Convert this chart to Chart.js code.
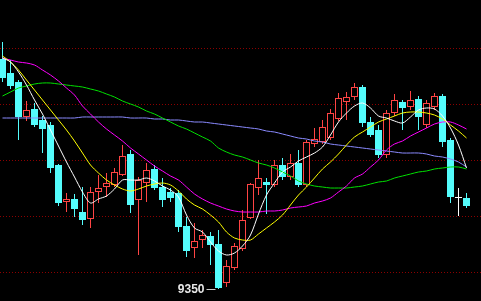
<!DOCTYPE html>
<html><head><meta charset="utf-8">
<script src="https://cdn.jsdelivr.net/npm/chart.js@4.4.1/dist/chart.umd.min.js"></script>
<style>html,body{margin:0;padding:0;background:#000;overflow:hidden}#wrap{width:481px;height:301px;position:relative}</style>
</head><body><div id="wrap"><canvas id="c"></canvas></div>
<script>
const OPEN=[9580,9566,9557,9522,9530,9519,9514,9474,9437,9440,9427,9420,9447,9452,9454,9464,9485,9439,9456,9470,9452,9447,9446,9413,9391,9399,9403,9395,9356,9371,9390,9421,9451,9457,9454,9474,9462,9476,9454,9495,9497,9501,9520,9537,9542,9552,9517,9509,9484,9526,9537,9532,9540,9514,9532,9543,9499,9441,9441];
const HIGH=[9597,9579,9559,9538,9536,9523,9517,9475,9446,9445,9452,9452,9464,9466,9471,9494,9489,9462,9476,9474,9461,9451,9449,9422,9416,9409,9407,9409,9379,9396,9429,9456,9479,9461,9479,9481,9485,9489,9499,9511,9519,9530,9546,9547,9556,9554,9522,9514,9529,9545,9539,9548,9543,9539,9546,9545,9501,9451,9446];
const LOW=[9557,9550,9499,9518,9512,9486,9466,9433,9427,9422,9414,9411,9436,9442,9452,9463,9426,9384,9437,9449,9432,9437,9407,9382,9381,9391,9374,9350,9352,9369,9388,9420,9444,9425,9452,9459,9459,9452,9452,9492,9495,9499,9518,9519,9539,9512,9502,9481,9481,9523,9509,9529,9509,9511,9529,9492,9436,9423,9431];
const CLOSE=[9561,9553,9522,9529,9514,9510,9471,9436,9440,9430,9419,9447,9451,9456,9467,9483,9434,9459,9469,9451,9439,9441,9412,9388,9398,9404,9394,9351,9373,9393,9419,9455,9461,9454,9474,9462,9476,9454,9497,9500,9512,9526,9541,9542,9552,9516,9504,9484,9526,9539,9531,9539,9522,9536,9543,9497,9442,9441,9433];
const MA5=[9581,9577,9567,9554,9539,9525,9509,9493,9477,9462,9447,9436,9440,9443,9450,9459,9459,9459,9461,9458,9453,9449,9442,9424,9411,9407,9397,9388,9384,9386,9393,9404,9425,9444,9456,9467,9472,9478,9482,9486,9492,9504,9517,9526,9533,9536,9531,9523,9521,9518,9516,9522,9529,9531,9530,9523,9511,9494,9471];
const MA10=[9583,9577,9569,9559,9549,9539,9529,9519,9509,9498,9486,9474,9466,9459,9454,9450,9448,9450,9453,9455,9456,9454,9448,9440,9434,9430,9424,9417,9407,9401,9399,9399,9405,9411,9417,9424,9434,9444,9452,9461,9470,9477,9485,9494,9502,9507,9512,9517,9520,9523,9526,9527,9527,9526,9524,9520,9514,9508,9501];
const MA20=[9581,9579,9577,9576,9574,9569,9564,9558,9551,9544,9533,9525,9517,9510,9504,9498,9491,9485,9479,9473,9468,9463,9459,9452,9445,9440,9436,9433,9430,9428,9427,9427,9427,9428,9428,9429,9431,9432,9433,9436,9438,9441,9447,9453,9461,9465,9472,9479,9489,9495,9498,9503,9507,9511,9515,9517,9517,9514,9510];
const MA40=[9543,9547,9551,9553,9555,9556,9556,9555,9554,9553,9552,9550,9548,9545,9542,9538,9535,9532,9528,9525,9521,9517,9513,9510,9506,9502,9498,9491,9487,9484,9482,9479,9476,9474,9471,9467,9463,9458,9455,9453,9452,9451,9451,9451,9452,9453,9455,9457,9458,9461,9463,9465,9467,9468,9470,9471,9472,9472,9470];
const MA60=[9521,9521,9521,9521,9521,9521,9521,9521,9521,9521,9522,9522,9522,9522,9522,9522,9521,9521,9521,9520,9520,9519,9519,9518,9517,9517,9516,9515,9514,9513,9512,9511,9510,9508,9507,9505,9503,9501,9500,9498,9497,9495,9494,9493,9492,9491,9490,9489,9488,9487,9486,9486,9486,9485,9483,9482,9480,9477,9472];
const GRID_LEVELS=[9591,9535,9479,9423,9367];

const UP_COLOR='#ff4444', DOWN_COLOR='#54fcfc', FLAT_COLOR='#ffffff';
const idx=OPEN.map((_,i)=>i);
const colorOf=i=>CLOSE[i]>OPEN[i]?UP_COLOR:(CLOSE[i]<OPEN[i]?DOWN_COLOR:FLAT_COLOR);
const wickData=idx.map(i=>({x:i,y:[LOW[i],HIGH[i]]}));
const bodyData=idx.map(i=>({x:i,y:[OPEN[i],CLOSE[i]]}));
const line=(arr,color)=>({type:'line',data:arr.map((v,i)=>({x:i,y:v})),borderColor:color,borderWidth:1,pointRadius:0,tension:0.3,fill:false,order:0});

const gridPlugin={id:'gridDots',beforeDatasetsDraw(chart){
  const {ctx,chartArea,scales:{y}}=chart;
  ctx.save();ctx.strokeStyle='#8c0000';ctx.lineWidth=1;ctx.setLineDash([1,2]);
  GRID_LEVELS.forEach(v=>{const py=Math.round(y.getPixelForValue(v))+0.5;ctx.beginPath();ctx.moveTo(chartArea.left,py);ctx.lineTo(chartArea.right,py);ctx.stroke();});
  ctx.restore();
}};
const lowLabel={id:'lowLabel',afterDatasetsDraw(chart){
  const {ctx,scales:{x,y}}=chart;
  const lo=Math.min(...LOW);const i=LOW.indexOf(lo);
  const px=x.getPixelForValue(i), py=Math.round(y.getPixelForValue(lo))+0.5;
  ctx.save();
  ctx.strokeStyle='#cccccc';ctx.lineWidth=1;
  ctx.beginPath();ctx.moveTo(px-12,py);ctx.lineTo(px-3,py);ctx.stroke();
  ctx.font='bold 12px "Liberation Sans", Arial, sans-serif';
  ctx.fillStyle='#e8e8e8';ctx.textAlign='right';ctx.textBaseline='middle';
  ctx.fillText(String(lo),px-14,py);
  ctx.restore();
}};

new Chart(document.getElementById('c'),{
  type:'bar',
  data:{datasets:[
    line(MA5,'#ffffff'),
    line(MA10,'#ffff00'),
    line(MA20,'#ff00ff'),
    line(MA40,'#00e000'),
    line(MA60,'#8a8aff'),
    {type:'bar',data:bodyData,backgroundColor:idx.map(i=>CLOSE[i]>OPEN[i]?'#000000':colorOf(i)),borderColor:idx.map(colorOf),borderWidth:1,borderSkipped:false,barThickness:7,grouped:false,minBarLength:1,inflateAmount:0,order:1},
    {type:'bar',data:wickData,backgroundColor:idx.map(colorOf),borderWidth:0,barThickness:1,grouped:false,inflateAmount:0,order:2}
  ]},
  options:{responsive:true,maintainAspectRatio:false,animation:false,layout:{padding:0},
    plugins:{legend:{display:false},tooltip:{enabled:false}},
    scales:{x:{type:'linear',display:false,offset:false,min:-0.3125,max:59.8125},y:{display:false,min:9338,max:9639}}},
  plugins:[gridPlugin,lowLabel]
});
</script></body></html>
